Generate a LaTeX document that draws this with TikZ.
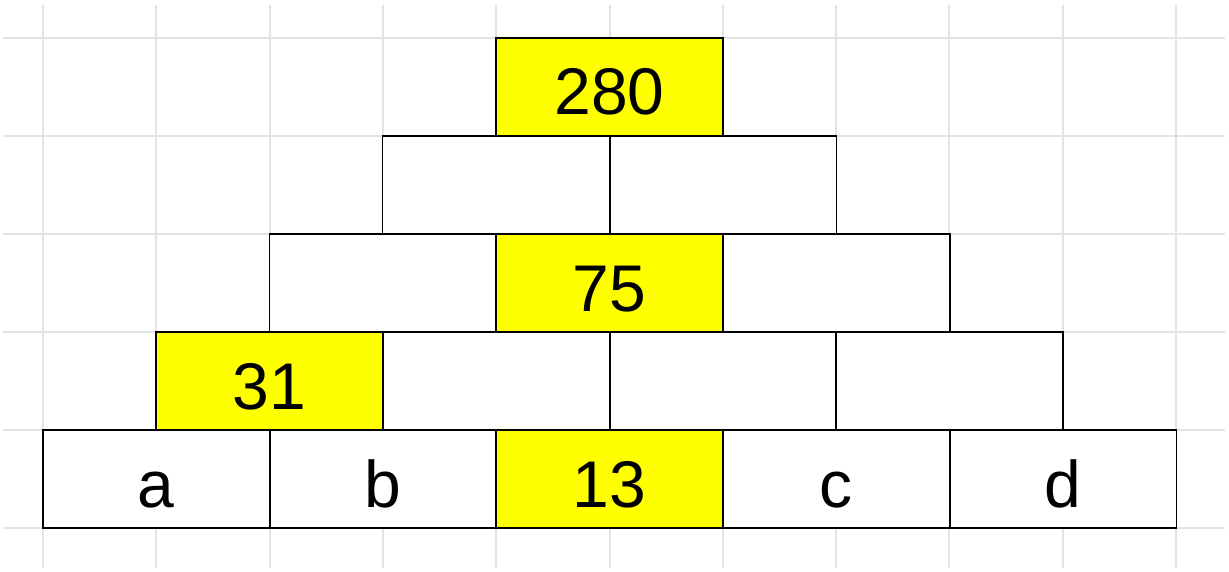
\documentclass[tikz,border=0pt]{standalone}
\usepackage{fontspec}
\setmainfont{Liberation Sans}
\definecolor{gridgray}{HTML}{E3E3E3}
\definecolor{hl}{HTML}{FFFF00}
\begin{document}
\begin{tikzpicture}[x=1pt,y=-1pt,
  cell/.style={fill=white,minimum width=226.7pt,minimum height=98pt,
    inner sep=0pt,text height=56pt,text depth=0pt,font=\fontsize{66}{78}\selectfont},
  hlcell/.style={cell,fill=hl},
  border/.style={draw=black,line width=1.5pt},
  gridline/.style={draw=gridgray,line width=2pt}]
\useasboundingbox (0,0) rectangle (1229,572);
\fill[white] (0,0) rectangle (1229,572);
% grid
\foreach \k in {0,...,5} {\draw[gridline] (3,38+98*\k) -- (1225,38+98*\k);}
\foreach \k in {0,...,10} {\draw[gridline] (43+113.3*\k,5) -- (43+113.3*\k,568);}
% row 0
\node[hlcell] (r0a) at (609.5,87) {280};
% row 1
\node[cell] (r1a) at (496.2,185) {};
\node[cell] (r1b) at (722.9,185) {};
% row 2
\node[cell] (r2a) at (382.9,283) {};
\node[hlcell] (r2b) at (609.5,283) {75};
\node[cell] (r2c) at (836.2,283) {};
% row 3
\node[hlcell] (r3a) at (269.6,381) {31};
\node[cell] (r3b) at (496.2,381) {};
\node[cell] (r3c) at (722.9,381) {};
\node[cell] (r3d) at (949.5,381) {};
% row 4
\node[cell] (r4a) at (156.3,479) {a};
\node[cell] (r4b) at (382.9,479) {b};
\node[hlcell] (r4c) at (609.5,479) {13};
\node[cell] (r4d) at (836.2,479) {c};
\node[cell] (r4e) at (1062.9,479) {d};
% borders
\foreach \n in {r0a,r1a,r1b,r2a,r2b,r2c,r3a,r3b,r3c,r3d,r4a,r4b,r4c,r4d,r4e}
  {\draw[border] (\n.north west) rectangle (\n.south east);}
\end{tikzpicture}
\end{document}
